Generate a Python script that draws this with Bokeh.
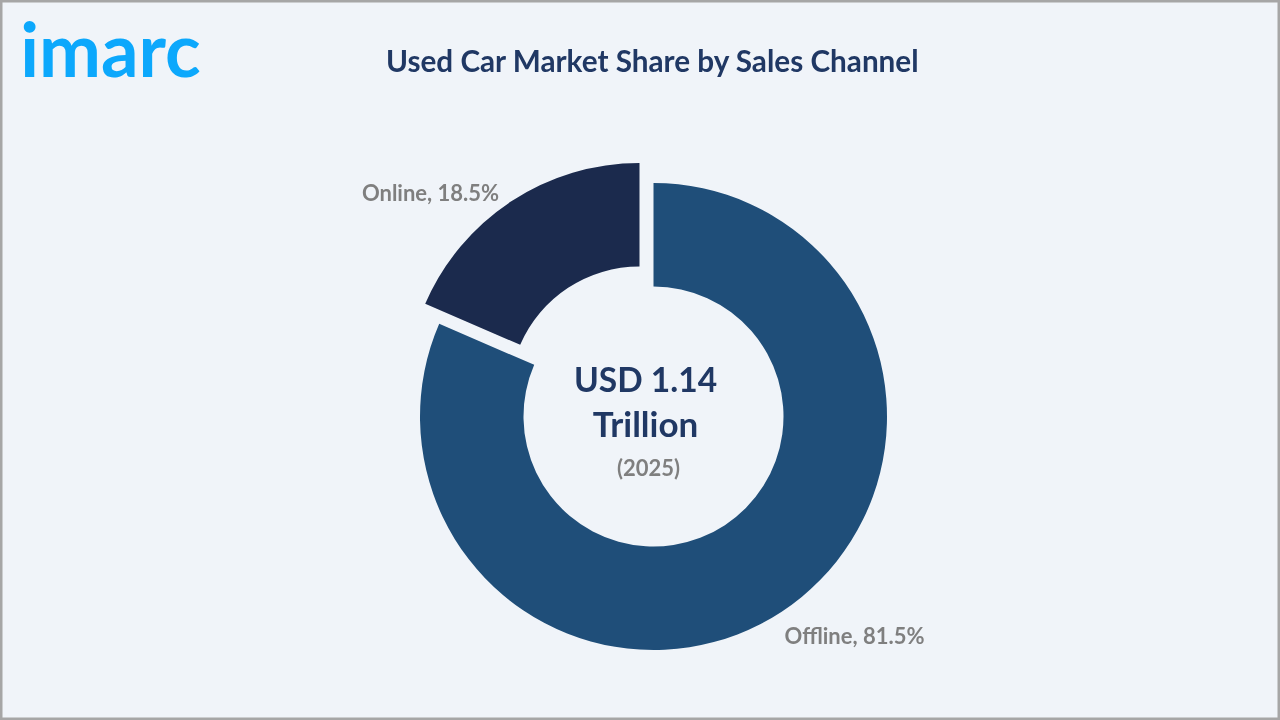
from math import pi

from bokeh.core.properties import value
from bokeh.embed import file_html
from bokeh.plotting import figure
from bokeh.resources import INLINE

# Data
channels = ["Offline", "Online"]
shares = [81.5, 18.5]
slice_colors = ["#1F4E79", "#1B2A4D"]
title = "Used Car Market Share by Sales Channel"
center_lines = ["USD 1.14", "Trillion"]
center_year = "(2025)"
logo_text = "imarc"

# y runs upwards, 1 unit = 1 pixel
p = figure(
    width=1280,
    height=720,
    x_range=(0, 1280),
    y_range=(0, 720),
    toolbar_location=None,
    output_backend="svg",
    min_border=0,
    background_fill_color="#F0F4F9",
    border_fill_color="#F0F4F9",
)
p.axis.visible = False
p.grid.visible = False
p.outline_line_color = "#A6A6A6"
p.outline_line_width = 4
p.styles = {"position": "fixed", "left": "0px", "top": "0px"}

# Donut, online slice is pulled out
centers = [(653, 304), (639, 324)]
start = pi / 2
for channel, share, color, (cx, cy) in zip(channels, shares, slice_colors, centers):
    end = start - 2 * pi * share / 100
    p.annular_wedge(
        x=[cx], y=[cy],
        inner_radius=130, outer_radius=233.5,
        start_angle=start, end_angle=end, direction="clock",
        fill_color=color, line_color=None,
    )
    start = end


def label(x, y, txt, size, color, weight="bold", font="Lato"):
    p.text(
        x=[x], y=[y], text=[txt],
        text_font=value(font),
        text_font_size=size,
        text_font_style=weight,
        text_color=color,
        text_align="center",
        text_baseline="middle",
    )


label(652.5, 660.5, title, "29.7px", "#203864")
label(645, 342, center_lines[0], "33.5px", "#203864")
label(645, 298, center_lines[1], "35px", "#203864")
label(648, 253, center_year, "22px", "#7F7F7F")
label(430, 528, f"{channels[1]}, {shares[1]}%", "22px", "#7F7F7F")
label(854, 85, f"{channels[0]}, {shares[0]}%", "22px", "#7F7F7F")
label(110, 672, logo_text, "74px", "#0CA8FC")

open("out.html", "w").write(file_html(p, INLINE))
